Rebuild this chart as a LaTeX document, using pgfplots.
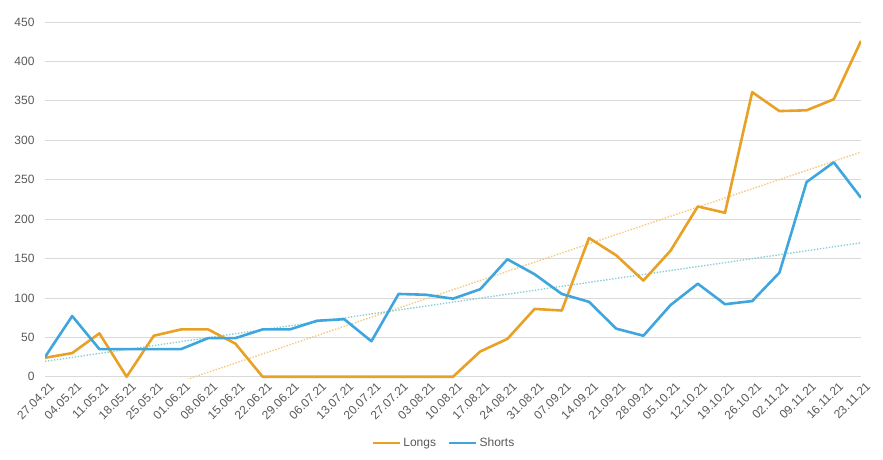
\documentclass[border=0pt]{standalone}
\usepackage{pgfplots}
\usepackage{pgfplotstable}
\pgfplotsset{compat=1.18}
\usepackage{fontspec}
\setmainfont{Liberation Sans}
\definecolor{longc}{HTML}{E8A125}
\definecolor{shortc}{HTML}{3FA6DD}
\definecolor{longt}{HTML}{F5C97C}
\definecolor{shortt}{HTML}{8CCFD3}
\definecolor{gridc}{HTML}{D9D9D9}
\definecolor{txt}{HTML}{595959}
\pgfplotstableread{
x longs shorts
0 24 25
1 30 77
2 55 35
3 0 35
4 52 35
5 60 35
6 60 49
7 42 49
8 0 60
9 0 60
10 0 71
11 0 73
12 0 45
13 0 105
14 0 104
15 0 99
16 32 111
17 48 149
18 86 130
19 84 105
20 176 95
21 154 61
22 122 52
23 160 91
24 216 118
25 208 92
26 361 96
27 337 132
28 338 247
29 352 272
30 426 227
}\data
\begin{document}
\begin{tikzpicture}
\path[use as bounding box] (-45pt,-80.7pt) rectangle (838pt,378.3pt);
\begin{axis}[
  at={(0pt,0pt)}, anchor=south west,
  scale only axis,
  width=816pt, height=356.3pt,
  xmin=0, xmax=30, ymin=-2, ymax=450,
  ytick={0,50,...,450},
  xtick={0,...,30},
  xticklabels={27.04.21,04.05.21,11.05.21,18.05.21,25.05.21,01.06.21,08.06.21,15.06.21,22.06.21,29.06.21,06.07.21,13.07.21,20.07.21,27.07.21,03.08.21,10.08.21,17.08.21,24.08.21,31.08.21,07.09.21,14.09.21,21.09.21,28.09.21,05.10.21,12.10.21,19.10.21,26.10.21,02.11.21,09.11.21,16.11.21,23.11.21},
  axis line style={draw=none},
  major tick length=0pt,
  ymajorgrids, grid style={gridc, line width=0.8pt},
  /pgf/number format/assume math mode=true,
  tick label style={font=\fontsize{12}{14}\selectfont, text=txt},
  yticklabel style={xshift=-7pt},
  xticklabel style={rotate=45, anchor=north east, inner sep=1pt, yshift=-4pt, xshift=2pt},
  legend style={at={(0.489,-0.1816)}, anchor=center, draw=none, fill=none,
    font=\fontsize{12}{14}\selectfont, text=txt, legend columns=2,
    /tikz/every even column/.append style={column sep=10pt},
    inner sep=0pt},
  legend image code/.code={\draw[#1] (0pt,0pt) -- (27pt,0pt);},
  legend cell align=left,
]
\addplot[longt, line width=1.4pt, dash pattern=on 1.4pt off 1.6pt, forget plot]
  table[x=x, y={create col/linear regression={y=longs}}] {\data};
\addplot[shortt, line width=1.4pt, dash pattern=on 1.4pt off 1.6pt, forget plot]
  table[x=x, y={create col/linear regression={y=shorts}}] {\data};
\addplot[longc, line width=2.6pt, line join=round] table[x=x, y=longs] {\data};
\addlegendentry{Longs}
\addplot[shortc, line width=2.6pt, line join=round] table[x=x, y=shorts] {\data};
\addlegendentry{Shorts}
\end{axis}
\end{tikzpicture}
\end{document}
